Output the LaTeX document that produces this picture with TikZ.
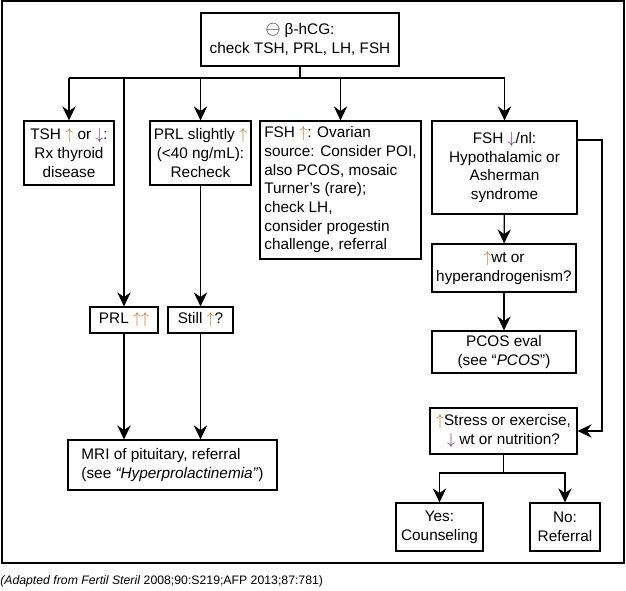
\documentclass[tikz,border=0pt]{standalone}
\usepackage{fontspec}
\setmainfont{Liberation Sans}
\usetikzlibrary{arrows.meta, positioning}
\definecolor{upcol}{RGB}{190,110,40}
\definecolor{dncol}{RGB}{100,40,145}
\newcommand{\hiarr}{{\color{upcol}$\uparrow$}}
\newcommand{\loarr}{{\color{dncol}$\downarrow$}}
\def\pxu{0.75pt}
\tikzset{flow/.style 2 args = {draw, line width=0.9pt, inner sep=0pt, align=center, minimum width=#1*\pxu, minimum height=#2*\pxu, font=\fontsize{11.5}{14}\selectfont}}
\tikzset{link/.style = {line width=0.9pt}}
\tikzset{flowarr/.style = {line width=0.9pt, -{Stealth[length=10.5pt, width=10pt, inset=3.5pt]}}}

\begin{document}
\begin{tikzpicture}[x=0.75pt, y=-0.75pt]
	\useasboundingbox (0,0) rectangle (626,591);
	\draw[line width=0.9pt] (2,1) rectangle (624,563);
	
	\node[flow={198}{53}] (start) at (300,39.5) {{\fontsize{15}{14}\selectfont$\ominus$} β-hCG:\\check TSH, PRL, LH, FSH};
	\node[flow={90}{64}] (tsh) at (69,153) {TSH \hiarr{} or \loarr:\\Rx thyroid\\disease};
	\node[flow={101}{64}] (prlmild) at (200.5,153) {PRL slightly \hiarr\\(<40 ng/mL):\\Recheck};
	\node[flow={161}{138}, align=left] (fshhi) at (340.5,190) {FSH \hiarr: Ovarian\\source: Consider POI,\\also PCOS, mosaic\\Turner’s (rare);\\check LH,\\consider progestin\\challenge, referral};
	\node[flow={145}{93}] (fshlo) at (504.5,167.5) {FSH \loarr/nl:\\Hypothalamic or\\Asherman\\syndrome};
	\node[flow={144}{48}] (wt) at (504,268) {\hiarr wt or\\hyperandrogenism?};
	\node[flow={144}{42}] (pcos) at (504,352) {PCOS eval\\(see “\textit{PCOS}”)};
	\node[flow={147}{46}] (stress) at (503.5,431) {\hiarr Stress or exercise,\\\loarr{} wt or nutrition?};
	\node[flow={87}{48}] (yes) at (439.5,527) {Yes:\\Counseling};
	\node[flow={70}{48}] (no) at (565,527) {No:\\Referral};
	\node[flow={68}{26}] (prlhigh) at (124,320) {PRL \hiarr\hiarr};
	\node[flow={65}{26}] (still) at (200.5,320) {Still \hiarr?};
	\node[flow={209}{50}, align=left] (mri) at (172.5,465) {MRI of pituitary, referral\\(see \textit{“Hyperprolactinemia”})};
	\node[anchor=west, inner sep=0pt, font=\fontsize{9.2}{11}\selectfont] (source) at (0,581) {\textit{(Adapted from Fertil Steril} 2008;90:S219;AFP 2013;87:781)};
	
	\coordinate (fork) at (300,78);
	\coordinate (bend) at (602,140);
	\coordinate (split) at (503.5,473);
	
	\draw[link] (start) -- (fork);
	\draw[link] (fork -| tsh) -- (fork -| fshlo);
	\foreach \n in {tsh, prlmild, prlhigh, fshhi, fshlo}
		\draw[flowarr] (fork -| \n) -- (\n);
	\draw[flowarr] (prlmild) -- (still);
	\draw[flowarr] (prlhigh) -- (prlhigh |- mri.north);
	\draw[flowarr] (still) -- (still |- mri.north);
	\draw[flowarr] (fshlo) -- (wt);
	\draw[flowarr] (wt) -- (pcos);
	\draw[flowarr] (fshlo.east |- bend) -- (bend) |- (stress.east);
	\draw[link] (stress) -- (split);
	\draw[flowarr] (split) -| (yes);
	\draw[flowarr] (split) -| (no);
\end{tikzpicture}
\end{document}
